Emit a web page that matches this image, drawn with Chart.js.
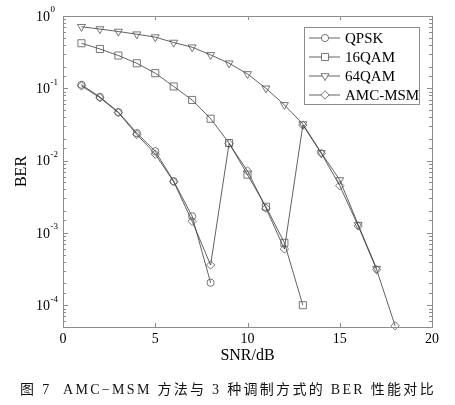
<!DOCTYPE html>
<html><head><meta charset="utf-8">
<script src="https://cdn.jsdelivr.net/npm/chart.js@4.4.1/dist/chart.umd.min.js"></script>
<style>html,body{margin:0;padding:0;background:#fff;}#wrap{width:455px;height:405px;position:relative;}</style>
</head><body><div id="wrap"><canvas id="c" width="455" height="405"></canvas></div>
<script>
// ---- data ----
const snrQPSK = [1,2,3,4,5,6,7,8];
const berQPSK = [0.112,0.076,0.047,0.024,0.0135,0.0052,0.0017,0.000205];
const snr16 = [1,2,3,4,5,6,7,8,9,10,11,12,13];
const ber16 = [0.42,0.35,0.284,0.222,0.162,0.106,0.069,0.038,0.0175,0.0064,0.0023,0.00073,0.0001];
const snr64 = [1,2,3,4,5,6,7,8,9,10,11,12,13,14,15,16,17];
const ber64 = [0.71,0.66,0.61,0.56,0.51,0.43,0.37,0.29,0.222,0.158,0.10,0.059,0.032,0.0128,0.0054,0.0013,0.00032];
const snrAMC = [1,2,3,4,5,6,7,8,9,10,11,12,13,14,15,16,17,18];
const berAMC = [0.108,0.074,0.046,0.023,0.0123,0.0051,0.00145,0.00036,0.0172,0.0072,0.0022,0.0006,0.031,0.0126,0.0045,0.00125,0.00031,0.000052];
const seriesNames = ['QPSK','16QAM','64QAM','AMC-MSM'];
const xTicks = [0,5,10,15,20];
const yDecades = [0,-1,-2,-3,-4];
const xTitle = 'SNR/dB';
const yTitle = 'BER';
const caption = '图 7  AMC−MSM 方法与 3 种调制方式的 BER 性能对比';

const SERIF = "'Liberation Serif','Times New Roman',serif";
const LINE = '#3a3a3a';
const MARK = '#555';
const AXIS = '#8c8c8c';

function pts(xs, ys){ return xs.map((x,i)=>({x:x,y:ys[i]})); }
function ds(label, xs, ys, style, r, rot){
  return {label:label, data:pts(xs,ys), borderColor:LINE, borderWidth:0.8,
    pointStyle:style, pointRadius:r, pointRotation:rot||0, pointBorderColor:MARK,
    pointBackgroundColor:'rgba(0,0,0,0)', pointBorderWidth:0.8, fill:false, tension:0, clip:false};
}

const decor = {
  id:'decor',
  afterDraw(chart){
    const {ctx, chartArea:a, scales:{x, y}} = chart;
    ctx.save();
    // box
    ctx.strokeStyle = AXIS; ctx.lineWidth = 1;
    ctx.strokeRect(Math.round(a.left)+0.5, Math.round(a.top)+0.5, Math.round(a.right-a.left), Math.round(a.bottom-a.top));
    // x ticks inward
    ctx.beginPath();
    xTicks.forEach(v=>{
      const px = Math.round(x.getPixelForValue(v))+0.5;
      ctx.moveTo(px, a.bottom); ctx.lineTo(px, a.bottom-4);
      ctx.moveTo(px, a.top); ctx.lineTo(px, a.top+4);
    });
    // y ticks inward (major + minor from log scale ticks)
    y.ticks.forEach(t=>{
      const v = t.value; const lg = Math.log10(v);
      const major = Math.abs(lg-Math.round(lg))<1e-6;
      const py = Math.round(y.getPixelForValue(v))+0.5;
      if (py < a.top-0.5 || py > a.bottom+0.5) return;
      const L = major?5:3;
      ctx.moveTo(a.left, py); ctx.lineTo(a.left+L, py);
      ctx.moveTo(a.right, py); ctx.lineTo(a.right-L, py);
    });
    ctx.stroke();
    // y labels 10^k
    ctx.fillStyle = '#000';
    yDecades.forEach(k=>{
      const py = y.getPixelForValue(Math.pow(10,k));
      ctx.font = '14px '+SERIF; ctx.textAlign='right'; ctx.textBaseline='middle';
      ctx.fillText('10', 50, py+1);
      ctx.font = '9px '+SERIF; ctx.textAlign='left'; ctx.textBaseline='middle';
      ctx.fillText(String(k), 50.5, py-6);
    });
    // legend
    const lx=304, ly=27, lw=115, lh=77;
    ctx.fillStyle='#fff'; ctx.fillRect(lx,ly,lw,lh);
    ctx.strokeStyle = AXIS; ctx.strokeRect(lx+0.5,ly+0.5,lw,lh);
    chart.data.datasets.forEach((d,i)=>{
      const yy = ly+11+i*19;
      ctx.strokeStyle = LINE; ctx.lineWidth=0.8;
      ctx.beginPath(); ctx.moveTo(309,yy); ctx.lineTo(340,yy); ctx.stroke();
      ctx.strokeStyle = MARK; ctx.fillStyle='#fff';
      Chart.helpers.drawPoint(ctx, {pointStyle:d.pointStyle, radius:d.pointRadius, rotation:d.pointRotation, borderWidth:0.8}, 325, yy);
      ctx.fillStyle='#000'; ctx.font='15px '+SERIF; ctx.textAlign='left'; ctx.textBaseline='middle';
      ctx.fillText(d.label, 345, yy+1);
    });
    // caption
    ctx.fillStyle='#111';
    ctx.font = "14px 'Liberation Serif','Noto Sans CJK SC',serif";
    ctx.textAlign='center'; ctx.textBaseline='middle';
    try { ctx.letterSpacing = '2.3px'; } catch(e){}
    ctx.fillText(caption, 228, 390);
    ctx.restore();
  }
};

new Chart(document.getElementById('c'), {
  type:'line',
  data:{datasets:[
    ds(seriesNames[0], snrQPSK, berQPSK, 'circle', 3.6, 0),
    ds(seriesNames[1], snr16, ber16, 'rect', 5, 0),
    ds(seriesNames[2], snr64, ber64, 'triangle', 4.6, 180),
    ds(seriesNames[3], snrAMC, berAMC, 'rectRot', 4.2, 0)
  ]},
  options:{
    responsive:false, animation:false, devicePixelRatio:1,
    layout:{padding:{top:16,right:23,bottom:40,left:0}},
    plugins:{legend:{display:false}, tooltip:{enabled:false}},
    scales:{
      x:{type:'linear', min:0, max:20,
        afterBuildTicks(s){ s.ticks = xTicks.map(v=>({value:v})); },
        afterFit(s){ s.height = 38; },
        grid:{display:false, drawTicks:false}, border:{display:false},
        ticks:{padding:4, color:'#000', font:{family:SERIF, size:14}, maxRotation:0},
        title:{display:true, text:xTitle, color:'#000', font:{family:SERIF, size:16}, padding:{top:0,bottom:0}}
      },
      y:{type:'logarithmic', min:5e-5, max:1,
        afterFit(s){ s.width = 63; },
        grid:{display:false, drawTicks:false}, border:{display:false},
        ticks:{display:false},
        title:{display:true, text:yTitle, color:'#000', font:{family:SERIF, size:16}, padding:{top:12,bottom:0}}
      }
    }
  },
  plugins:[decor]
});
</script></body></html>
